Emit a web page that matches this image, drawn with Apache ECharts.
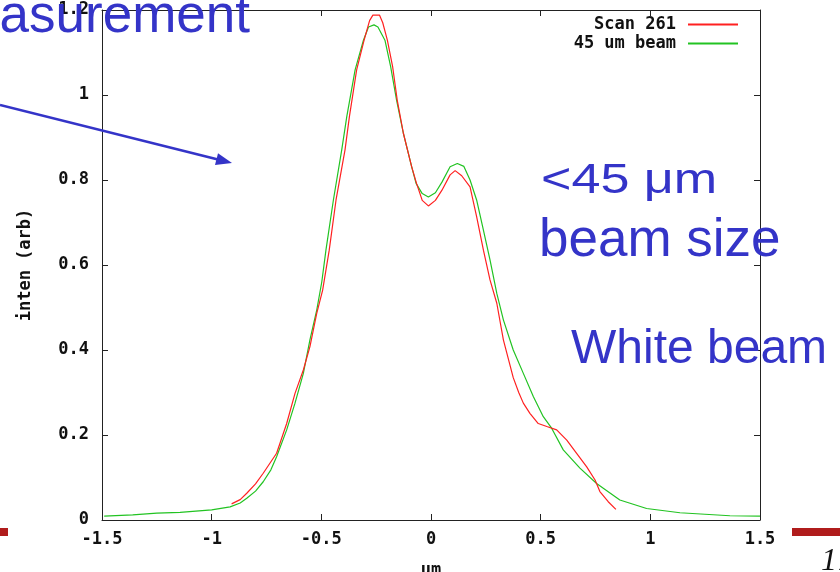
<!DOCTYPE html>
<html>
<head>
<meta charset="utf-8">
<script src="https://cdn.jsdelivr.net/npm/echarts@6/dist/echarts.min.js"></script>
<style>
html,body{margin:0;padding:0;background:#fff;}
#chart{width:840px;height:572px;}
</style>
</head>
<body>
<div id="chart"></div>
<script>
// Scan 261 (red)
const scanX = [-0.909,-0.87,-0.84,-0.80,-0.765,-0.704,-0.658,-0.620,-0.582,-0.552,-0.521,-0.494,-0.464,-0.433,-0.392,-0.372,-0.339,-0.305,-0.28,-0.265,-0.235,-0.22,-0.199,-0.175,-0.154,-0.126,-0.088,-0.066,-0.04,-0.012,0.02,0.05,0.087,0.11,0.14,0.178,0.208,0.239,0.269,0.300,0.330,0.375,0.40,0.421,0.451,0.489,0.528,0.573,0.619,0.664,0.71,0.748,0.77,0.808,0.843];
const scanY = [0.038,0.048,0.063,0.085,0.11,0.157,0.227,0.298,0.353,0.408,0.486,0.541,0.635,0.753,0.871,0.949,1.059,1.129,1.175,1.188,1.188,1.17,1.129,1.067,0.988,0.91,0.831,0.792,0.752,0.739,0.752,0.776,0.812,0.822,0.810,0.784,0.714,0.635,0.565,0.51,0.424,0.335,0.300,0.275,0.251,0.227,0.220,0.212,0.188,0.157,0.125,0.094,0.067,0.043,0.025];
// 45 um beam (green)
const beamX = [-1.49,-1.36,-1.25,-1.144,-1.0,-0.916,-0.87,-0.84,-0.80,-0.765,-0.73,-0.704,-0.658,-0.620,-0.582,-0.552,-0.521,-0.498,-0.479,-0.445,-0.407,-0.384,-0.346,-0.308,-0.285,-0.26,-0.242,-0.210,-0.184,-0.157,-0.126,-0.088,-0.068,-0.04,-0.012,0.02,0.05,0.087,0.12,0.15,0.178,0.208,0.239,0.269,0.300,0.330,0.375,0.421,0.467,0.512,0.55,0.603,0.679,0.755,0.861,0.983,1.135,1.363,1.5];
const beamY = [0.009,0.012,0.016,0.018,0.024,0.031,0.040,0.051,0.068,0.090,0.118,0.149,0.212,0.275,0.345,0.424,0.494,0.56,0.635,0.753,0.871,0.949,1.059,1.129,1.160,1.165,1.160,1.129,1.067,0.988,0.91,0.831,0.792,0.768,0.760,0.770,0.795,0.831,0.839,0.832,0.80,0.753,0.682,0.612,0.533,0.471,0.40,0.345,0.29,0.243,0.216,0.165,0.122,0.086,0.047,0.027,0.017,0.010,0.009];
const seriesNames = ['Scan 261', '45 um beam'];
const xRange = [-1.5, 1.5, 0.5];
const yRange = [0, 1.2, 0.2];

const toPairs = (xs, ys) => xs.map((x, i) => [x, ys[i]]);
const mono = { fontFamily: 'DejaVu Sans Mono', fontWeight: 'bold', fontSize: 17, color: '#111' };
const axisColor = '#222';
const blue = '#3434c8';
const sans = '"Liberation Sans", Arial, sans-serif';

const chart = echarts.init(document.getElementById('chart'), null, { renderer: 'canvas' });
const baseX = {
  type: 'value', min: xRange[0], max: xRange[1], interval: xRange[2],
  splitLine: { show: false },
  axisLine: { show: true, onZero: false, lineStyle: { color: axisColor, width: 1 } },
  axisTick: { show: true, inside: true, length: 6, lineStyle: { color: axisColor } }
};
const baseY = {
  type: 'value', min: yRange[0], max: yRange[1], interval: yRange[2],
  splitLine: { show: false },
  axisLine: { show: true, onZero: false, lineStyle: { color: axisColor, width: 1 } },
  axisTick: { show: true, inside: true, length: 6, lineStyle: { color: axisColor } }
};
chart.setOption({
  animation: false,
  backgroundColor: '#fff',
  grid: { left: 102, right: 80, top: 10, bottom: 52, containLabel: false, outerBoundsMode: 'none' },
  legend: {
    data: seriesNames,
    orient: 'vertical', align: 'right',
    right: 101, top: 16, padding: 0,
    itemWidth: 50, itemHeight: 12, itemGap: 2,
    itemStyle: { opacity: 0 },
    textStyle: Object.assign({}, mono, { padding: [0, 7, 0, 0] })
  },
  xAxis: [
    Object.assign({}, baseX, {
      position: 'bottom',
      axisLabel: Object.assign({ margin: 11 }, mono),
      name: 'um', nameLocation: 'middle', nameGap: 42,
      nameTextStyle: mono
    }),
    Object.assign({}, baseX, { position: 'top', axisLabel: { show: false } })
  ],
  yAxis: [
    Object.assign({}, baseY, {
      position: 'left',
      axisLabel: Object.assign({ margin: 13 }, mono),
      name: 'inten (arb)', nameLocation: 'middle', nameGap: 68, nameRotate: 90,
      nameTextStyle: mono
    }),
    Object.assign({}, baseY, { position: 'right', axisLabel: { show: false } })
  ],
  series: [
    {
      name: seriesNames[0], type: 'line', xAxisIndex: 0, yAxisIndex: 0,
      data: toPairs(scanX, scanY), symbol: 'none', smooth: false,
      lineStyle: { color: '#ff2020', width: 1.2 }, itemStyle: { color: '#ff2020' }, z: 3
    },
    {
      name: seriesNames[1], type: 'line', xAxisIndex: 0, yAxisIndex: 0,
      data: toPairs(beamX, beamY), symbol: 'none', smooth: false,
      lineStyle: { color: '#22c322', width: 1.2 }, itemStyle: { color: '#22c322' }, z: 2
    }
  ],
  graphic: [
    { type: 'text', z: 100, x: 250, y: 17, style: { text: 'asurement', fill: blue, font: '53px ' + sans, align: 'right', verticalAlign: 'middle' } },
    { type: 'line', z: 100, shape: { x1: 0, y1: 105, x2: 218, y2: 159.5 }, style: { stroke: blue, lineWidth: 2.5 } },
    { type: 'polygon', z: 100, shape: { points: [[232, 163], [218, 153.3], [215, 164.9]] }, style: { fill: blue } },
    { type: 'text', z: 100, x: 541, y: 181, scaleX: 1.24, style: { text: '<45 μm', fill: blue, font: '42px ' + sans, align: 'left', verticalAlign: 'middle' } },
    { type: 'text', z: 100, x: 539, y: 241.5, style: { text: 'beam size', fill: blue, font: '53px ' + sans, align: 'left', verticalAlign: 'middle' } },
    { type: 'text', z: 100, x: 571, y: 349.5, style: { text: 'White beam', fill: blue, font: '48px ' + sans, align: 'left', verticalAlign: 'middle' } },
    { type: 'rect', z: 100, shape: { x: 0, y: 528, width: 8, height: 8 }, style: { fill: '#b01c1c' } },
    { type: 'rect', z: 100, shape: { x: 792, y: 528, width: 48, height: 8 }, style: { fill: '#b01c1c' } },
    { type: 'text', z: 100, x: 821, y: 562, style: { text: '17', fill: '#111', font: 'italic 32px "Liberation Serif", "Times New Roman", serif', align: 'left', verticalAlign: 'middle' } }
  ]
});
</script>
</body>
</html>
